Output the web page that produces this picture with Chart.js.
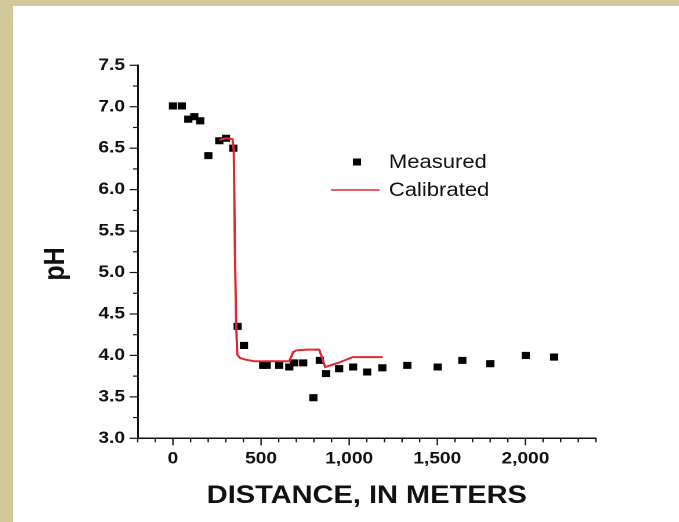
<!DOCTYPE html>
<html>
<head>
<meta charset="utf-8">
<script src="https://cdn.jsdelivr.net/npm/chart.js@4.4.1/dist/chart.umd.min.js"></script>
<style>
  html, body { margin: 0; padding: 0; }
  body { width: 679px; height: 522px; background: #d3c899; overflow: hidden; position: relative; }
  #page { position: absolute; left: 13px; top: 6px; width: 666px; height: 516px; background: #fff; overflow: hidden; }
  /* the source figure is a little stretched sideways */
  #wrap { width: 574px; height: 516px; transform: scaleX(1.16); transform-origin: 0 0; }
</style>
</head>
<body>
<div id="page"><div id="wrap"><canvas id="chart"></canvas></div></div>
<script>
// Measured pH along the stream
const measuredDist = [0, 50, 87, 121, 155, 201, 263, 301, 343, 367, 403, 512, 532, 603, 660, 688, 739, 797, 833, 869, 943, 1022, 1102, 1188, 1330, 1502, 1642, 1801, 2002, 2163];
const measuredPH   = [7.01, 7.01, 6.85, 6.88, 6.83, 6.41, 6.59, 6.62, 6.50, 4.35, 4.12, 3.88, 3.88, 3.88, 3.86, 3.91, 3.91, 3.49, 3.94, 3.78, 3.84, 3.86, 3.80, 3.85, 3.88, 3.86, 3.94, 3.90, 4.00, 3.98];

// Calibrated model
const calibratedDist = [263, 300, 338, 345, 352, 359, 365, 380, 410, 460, 520, 660, 682, 700, 760, 830, 864, 938, 1020, 1190];
const calibratedPH   = [6.60, 6.62, 6.61, 6.48, 5.20, 4.35, 4.01, 3.97, 3.95, 3.93, 3.93, 3.93, 4.04, 4.06, 4.07, 4.07, 3.86, 3.91, 3.98, 3.98];

const seriesNames = ['Measured', 'Calibrated'];
const xTitle = 'DISTANCE, IN METERS';
const yTitle = 'pH';

const ink = '#111';
const red = '#e3262e';
const fontFamily = '"Liberation Sans", Arial, sans-serif';

const toPoints = (xs, ys) => xs.map((x, i) => ({ x: x, y: ys[i] }));

// major / minor tick marks drawn outward from the axes
const axisTicks = {
  id: 'axisTicks',
  afterDraw(chart) {
    const ctx = chart.ctx;
    const { x, y } = chart.scales;
    ctx.save();
    ctx.strokeStyle = ink;
    ctx.lineWidth = 1.2;
    x.ticks.forEach(t => {
      const px = x.getPixelForValue(t.value);
      const len = t.value % 500 === 0 ? 7 : 4;
      ctx.beginPath();
      ctx.moveTo(px, x.top);
      ctx.lineTo(px, x.top + len);
      ctx.stroke();
    });
    y.ticks.forEach(t => {
      const py = y.getPixelForValue(t.value);
      const len = Math.round(t.value * 100) % 50 === 0 ? 7 : 4;
      ctx.beginPath();
      ctx.moveTo(y.right, py);
      ctx.lineTo(y.right - len, py);
      ctx.stroke();
    });
    // y title sits a bit below the middle of the axis in the original
    ctx.font = 'bold 25px ' + fontFamily;
    ctx.fillStyle = ink;
    ctx.textAlign = 'center';
    ctx.textBaseline = 'middle';
    ctx.translate(37, 258);
    ctx.rotate(-Math.PI / 2);
    ctx.fillText(yTitle, 0, 0);
    ctx.restore();
  }
};

// legend sitting inside the plot
const innerLegend = {
  id: 'innerLegend',
  afterDraw(chart) {
    const ctx = chart.ctx;
    const ds = chart.data.datasets;
    ctx.save();
    ctx.font = '19px ' + fontFamily;
    ctx.textBaseline = 'middle';
    ctx.textAlign = 'left';
    // measured marker
    ctx.fillStyle = ds[0].backgroundColor;
    ctx.fillRect(296.5 - 3.5, 156 - 3.5, 7, 7);
    ctx.fillStyle = ink;
    ctx.fillText(ds[0].label, 324, 157);
    // calibrated line
    ctx.strokeStyle = ds[1].borderColor;
    ctx.lineWidth = 1.6;
    ctx.beginPath();
    ctx.moveTo(274, 184);
    ctx.lineTo(316, 184);
    ctx.stroke();
    ctx.fillText(ds[1].label, 324, 185);
    ctx.restore();
  }
};

new Chart(document.getElementById('chart'), {
  type: 'scatter',
  data: {
    datasets: [
      {
        label: seriesNames[0],
        data: toPoints(measuredDist, measuredPH),
        pointStyle: 'rect',
        pointRadius: 5,
        pointHoverRadius: 5,
        backgroundColor: '#000',
        borderColor: '#000',
        borderWidth: 0,
        order: 2
      },
      {
        label: seriesNames[1],
        type: 'line',
        data: toPoints(calibratedDist, calibratedPH),
        borderColor: red,
        borderWidth: 2,
        pointRadius: 0,
        fill: false,
        tension: 0,
        order: 1
      }
    ]
  },
  options: {
    responsive: true,
    maintainAspectRatio: false,
    animation: false,
    devicePixelRatio: 2,
    layout: { padding: { top: 59.3, right: 71.5, left: 0, bottom: 0 } },
    plugins: {
      legend: { display: false },
      tooltip: { enabled: false }
    },
    scales: {
      x: {
        type: 'linear',
        min: -200,
        max: 2400,
        grid: { display: false, drawTicks: false },
        border: { display: true, color: ink, width: 1.5 },
        ticks: {
          stepSize: 100,
          autoSkip: false,
          maxRotation: 0,
          padding: 11,
          color: ink,
          font: { family: fontFamily, size: 16.5, weight: 'bold' },
          callback: v => (v >= 0 && v % 500 === 0) ? v.toLocaleString('en-US') : ''
        },
        title: {
          display: true,
          text: xTitle,
          color: ink,
          padding: { top: 0, bottom: 11 },
          font: { family: fontFamily, size: 25, weight: 'bold' }
        },
        afterFit: s => { s.height = 83.7; }
      },
      y: {
        type: 'linear',
        min: 3,
        max: 7.5,
        grid: { display: false, drawTicks: false },
        border: { display: true, color: ink, width: 1.5 },
        ticks: {
          stepSize: 0.25,
          autoSkip: false,
          padding: 11,
          color: ink,
          font: { family: fontFamily, size: 16.5, weight: 'bold' },
          callback: v => Math.round(v * 100) % 50 === 0 ? v.toFixed(1) : ''
        },
        title: { display: false, text: yTitle },
        afterFit: s => { s.width = 107.5; }
      }
    }
  },
  plugins: [axisTicks, innerLegend]
});
</script>
</body>
</html>
